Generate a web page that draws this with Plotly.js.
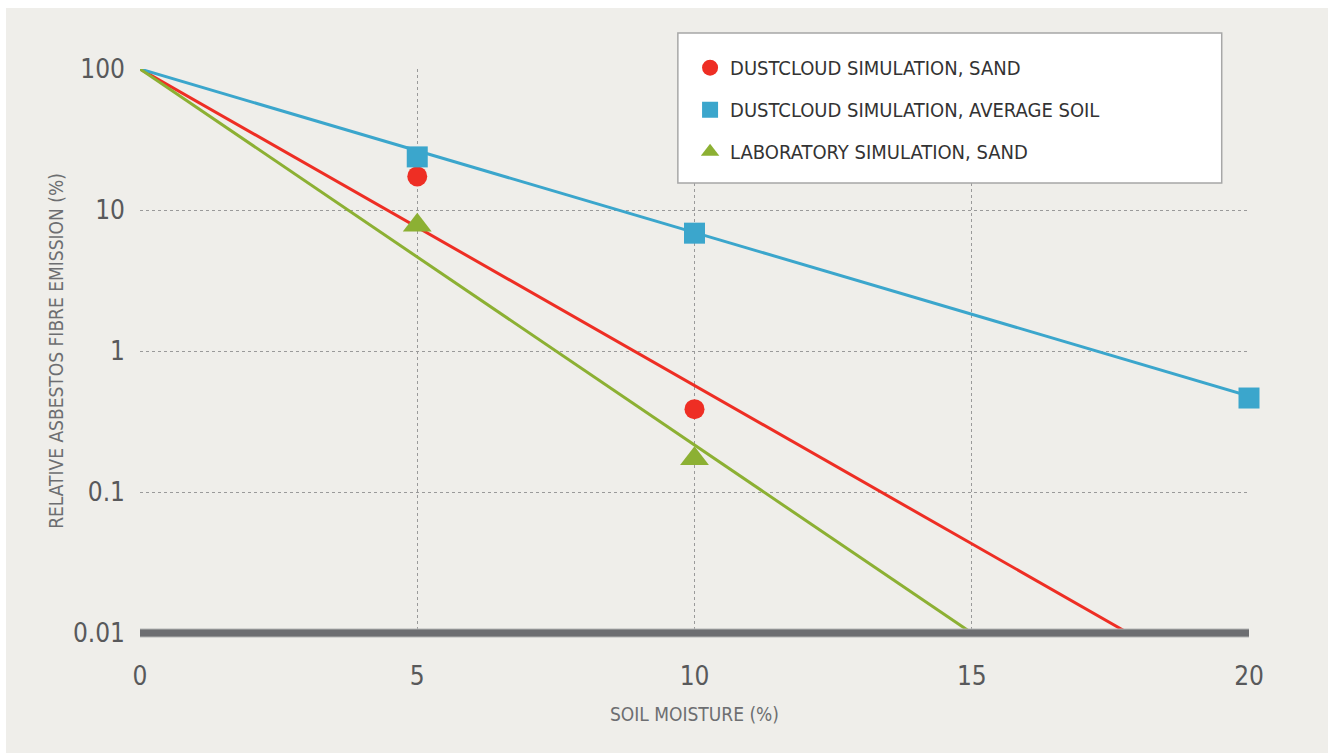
<!DOCTYPE html>
<html>
<head>
<meta charset="utf-8">
<script src="https://cdn.plot.ly/plotly-3.0.1.min.js"></script>
<style>
  html, body { margin: 0; padding: 0; background: #ffffff; width: 1328px; height: 753px; overflow: hidden; }
  #chart { position: absolute; left: 6px; top: 8px; width: 1322px; height: 745px; }
</style>
</head>
<body>
<div id="chart"></div>
<script>
// ---- Data ----
const seriesNames = [
  "DUSTCLOUD SIMULATION, SAND",
  "DUSTCLOUD SIMULATION, AVERAGE SOIL",
  "LABORATORY SIMULATION, SAND"
];
// Measured points (soil moisture %, relative emission %)
const sandDustX = [5, 10];
const sandDustY = [17.3, 0.387];
const soilDustX = [5, 10, 20];
const soilDustY = [23.8, 6.85, 0.464];
const sandLabX = [5, 10];
const sandLabY = [7.8, 0.172];
// Fitted trend lines (end points)
const sandDustFitX = [0, 17.82];
const sandDustFitY = [100, 0.01];
const soilDustFitX = [0, 20];
const soilDustFitY = [100, 0.48];
const sandLabFitX = [0, 15];
const sandLabFitY = [100, 0.01];
// Axis ticks
const xTicks = [0, 5, 10, 15, 20];
const yTicks = [0.01, 0.1, 1, 10, 100];
const yTickText = ["0.01", "0.1", "1", "10", "100"];

const RED = "#ee2e24", BLUE = "#3ba6cc", GREEN = "#8cb033";
const FONT = "DejaVu Sans Condensed, Liberation Sans Narrow, sans-serif";

const traces = [
  { x: sandDustFitX, y: sandDustFitY, mode: "lines", line: { color: RED, width: 3 }, showlegend: false, hoverinfo: "skip" },
  { x: soilDustFitX, y: soilDustFitY, mode: "lines", line: { color: BLUE, width: 3 }, showlegend: false, hoverinfo: "skip" },
  { x: sandLabFitX, y: sandLabFitY, mode: "lines", line: { color: GREEN, width: 3 }, showlegend: false, hoverinfo: "skip" },
  { x: sandDustX, y: sandDustY, mode: "markers", name: seriesNames[0], legendgroup: "a", cliponaxis: false,
    marker: { symbol: "circle", size: 20, color: RED } },
  { x: soilDustX, y: soilDustY, mode: "markers", name: seriesNames[1], legendgroup: "b", cliponaxis: false,
    marker: { symbol: "square", size: 21, color: BLUE } },
  { x: sandLabX, y: sandLabY, mode: "markers", name: seriesNames[2], legendgroup: "c", cliponaxis: false,
    marker: { symbol: "triangle-up", size: 25, color: GREEN } }
];

const layout = {
  width: 1322, height: 745,
  paper_bgcolor: "#efeeea", plot_bgcolor: "#efeeea",
  margin: { l: 134, r: 78.7, t: 61, b: 119.7 },
  showlegend: true,
  font: { family: FONT, color: "#58595b" },
  xaxis: {
    range: [0, 20], tickvals: xTicks, ticktext: xTicks.map(String),
    showgrid: true, gridcolor: "#9a9a9a", griddash: "dot", gridwidth: 1,
    zeroline: false, showline: false, ticks: "",
    tickfont: { family: FONT, size: 26, color: "#58595b" },
    ticklabelstandoff: 25,
    title: { text: "SOIL MOISTURE (%)", font: { family: FONT, size: 19, color: "#6d6e71" }, standoff: 17 }
  },
  yaxis: {
    type: "log", range: [-2, 2], tickvals: yTicks, ticktext: yTickText,
    showgrid: true, gridcolor: "#9a9a9a", griddash: "dot", gridwidth: 1,
    zeroline: false, showline: false, ticks: "",
    tickfont: { family: FONT, size: 26, color: "#58595b" },
    ticklabelstandoff: 14,
    title: { text: "RELATIVE ASBESTOS FIBRE EMISSION (%)", font: { family: FONT, size: 19, color: "#6d6e71" }, standoff: 4 }
  },
  legend: {
    x: 0.496, y: 1.037, xanchor: "left", yanchor: "top",
    bgcolor: "rgba(0,0,0,0)", borderwidth: 0,
    tracegroupgap: 13,
    font: { family: FONT, size: 20, color: "#333333" }
  },
  shapes: [
    { type: "rect", xref: "paper", yref: "paper", x0: 0.485, x1: 0.9754, y0: 0.798, y1: 1.0638,
      fillcolor: "#ffffff", line: { color: "#a7a7a7", width: 1.5 }, layer: "above" },
    { type: "line", xref: "paper", yref: "paper", x0: 0, x1: 1, y0: 0, y1: 0,
      line: { color: "#b5b5b5", width: 9 }, layer: "above" },
    { type: "line", xref: "paper", yref: "paper", x0: 0, x1: 1, y0: 0, y1: 0,
      line: { color: "#6d6e71", width: 7 }, layer: "above" }
  ]
};

Plotly.newPlot("chart", traces, layout, { displayModeBar: false, staticPlot: true });
</script>
</body>
</html>
